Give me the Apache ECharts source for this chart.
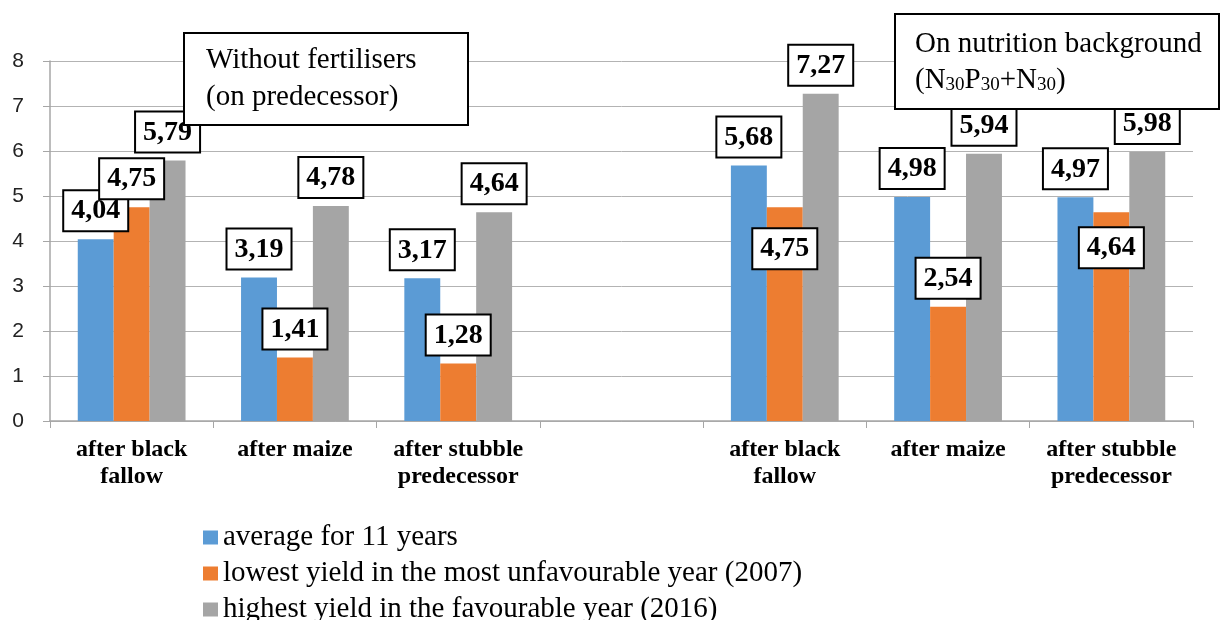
<!DOCTYPE html>
<html>
<head>
<meta charset="utf-8">
<script src="https://cdn.jsdelivr.net/npm/echarts@6/dist/echarts.min.js"></script>
<style>
  html, body { margin: 0; padding: 0; background: #fff; }
  #chart { width: 1223px; height: 620px; }
</style>
</head>
<body>
<div id="chart"></div>
<script>
// categories (empty slot splits the two groups)
var categories = [
  "after black\nfallow", "after maize", "after stubble\npredecessor", "",
  "after black\nfallow", "after maize", "after stubble\npredecessor"
];
var seriesNames = [
  "average for 11 years",
  "lowest yield in the most unfavourable year (2007)",
  "highest yield in the favourable year (2016)"
];
var averageYield = [4.04, 3.19, 3.17, null, 5.68, 4.98, 4.97];
var lowestYield = [4.75, 1.41, 1.28, null, 4.75, 2.54, 4.64];
var highestYield = [5.79, 4.78, 4.64, null, 7.27, 5.94, 5.98];
var yTicks = [0, 1, 2, 3, 4, 5, 6, 7, 8];

var colors = ["#5b9bd5", "#ed7d31", "#a5a5a5"];
var serif = "'Liberation Serif', 'Times New Roman', serif";

// labels that sit inside the bar (index -> distance from bar top)
var insideLabels = { 1: { 4: 22, 6: 16 } };

function valueLabel() {
  return {
    show: true,
    position: "top",
    distance: 9,
    formatter: function(p) {
      return p.value.toFixed(2).replace(".", ",");
    },
    fontFamily: serif,
    fontWeight: "bold",
    fontSize: 28,
    lineHeight: 30,
    color: "#000",
    backgroundColor: "#fff",
    borderColor: "#000",
    borderWidth: 2,
    padding: [5, 7, 4, 7]
  };
}

function makeSeries(values, k) {
  var inside = insideLabels[k] || {};
  return {
    name: seriesNames[k],
    type: "bar",
    barGap: "0%",
    barCategoryGap: "34%",
    itemStyle: { color: colors[k] },
    label: valueLabel(),
    data: values.map(function(v, i) {
      if (v == null) return null;
      if (inside[i] != null) {
        return {
          value: v,
          label: { position: "insideTop", distance: inside[i] }
        };
      }
      return v;
    })
  };
}

// one legend per row so the rows keep Excel's spacing
function legendRow(k, top) {
  return {
    orient: "vertical",
    left: 198,
    top: top,
    icon: "rect",
    itemWidth: 15,
    itemHeight: 14,
    data: [seriesNames[k]],
    textStyle: { fontFamily: serif, fontSize: 29, lineHeight: 26, color: "#000" }
  };
}

var chart = echarts.init(document.getElementById("chart"));
chart.setOption({
  animation: false,
  backgroundColor: "#fff",
  grid: { left: 50, right: 30, top: 61, bottom: 199 },
  legend: [legendRow(0, 518), legendRow(1, 554), legendRow(2, 590)],
  xAxis: {
    type: "category",
    data: categories,
    axisLine: { lineStyle: { color: "#a6a6a6", width: 1.5 } },
    axisTick: { show: true, length: 7, lineStyle: { color: "#a6a6a6" } },
    axisLabel: {
      interval: 0,
      margin: 15,
      fontFamily: serif,
      fontWeight: "bold",
      fontSize: 24,
      lineHeight: 27,
      color: "#000"
    }
  },
  yAxis: {
    type: "value",
    min: yTicks[0],
    max: yTicks[yTicks.length - 1],
    interval: 1,
    axisLine: { show: true, lineStyle: { color: "#a6a6a6", width: 1.5 } },
    axisTick: { show: true, length: 7, lineStyle: { color: "#a6a6a6" } },
    axisLabel: {
      margin: 26,
      fontFamily: "'Liberation Sans', Arial, sans-serif",
      fontSize: 21,
      color: "#222"
    },
    splitLine: { lineStyle: { color: "#b3b3b3", width: 1 } }
  },
  series: [
    makeSeries(averageYield, 0),
    makeSeries(lowestYield, 1),
    makeSeries(highestYield, 2)
  ],
  // annotation boxes (z on each child so they cover grid lines and labels)
  graphic: [
    {
      type: "group",
      left: 183,
      top: 32,
      children: [
        {
          type: "rect",
          z: 100,
          shape: { x: 0, y: 0, width: 284, height: 92 },
          style: { fill: "#fff", stroke: "#000", lineWidth: 2 }
        },
        {
          type: "text",
          z: 101,
          x: 22,
          y: 9,
          style: {
            text: "Without fertilisers\n(on predecessor)",
            font: "29px " + serif,
            lineHeight: 37,
            fill: "#000"
          }
        }
      ]
    },
    {
      type: "group",
      left: 894,
      top: 13,
      children: [
        {
          type: "rect",
          z: 100,
          shape: { x: 0, y: 0, width: 324, height: 95 },
          style: { fill: "#fff", stroke: "#000", lineWidth: 2 }
        },
        {
          type: "text",
          z: 101,
          x: 20,
          y: 12,
          style: {
            text: "{a|On nutrition background}\n{a|(N}{s|30}{a|P}{s|30}{a|+N}{s|30}{a|)}",
            fill: "#000",
            rich: {
              a: { fontFamily: serif, fontSize: 29, lineHeight: 36, verticalAlign: "middle" },
              s: { fontFamily: serif, fontSize: 19, lineHeight: 36, verticalAlign: "bottom", padding: [0, 0, 3, 0] }
            }
          }
        }
      ]
    }
  ]
});
</script>
</body>
</html>
